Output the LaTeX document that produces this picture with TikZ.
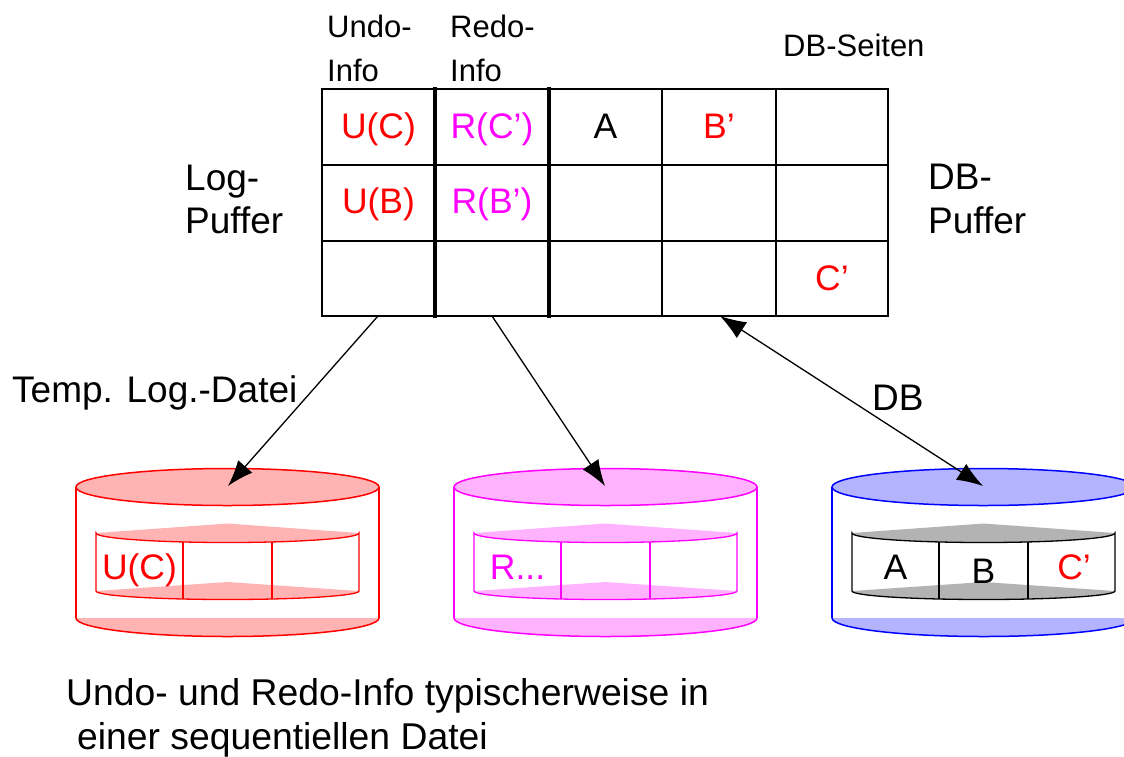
\documentclass[tikz,border=0pt]{standalone}
\usepackage{fontspec}
\setmainfont{Liberation Sans}
\usetikzlibrary{arrows.meta}
\definecolor{pred}{HTML}{FF0000}
\definecolor{pmag}{HTML}{FF00FF}
\definecolor{pblue}{HTML}{0000FF}
\definecolor{lred}{HTML}{FFB3B3}
\definecolor{lmag}{HTML}{FFB3FF}
\definecolor{lblue}{HTML}{B3B3FF}
\definecolor{lgrey}{HTML}{B3B3B3}
\tikzset{
  pics/dbcyl/.style n args={4}{code={
    \fill[#2] (-151.5,618) arc (180:0:151.5 and 18.5) -- cycle;
    \draw[#1, line width=1.5pt] (-151.5,618) arc (180:0:151.5 and 18.5);
    \draw[#1, line width=1.5pt] (-151.5,487) -- (-151.5,618) (151.5,487) -- (151.5,618);
    \filldraw[draw=#1, fill=#2, line width=1.5pt] (0,487) ellipse (151.5 and 18.5);
    \fill[#4] (-131.5,533) -- (0,523.5) -- (131.5,533) arc (0:180:131.5 and 9.5) -- cycle;
    \fill[#4] (-131.5,591) -- (0,582) -- (131.5,591) arc (0:180:131.5 and 8.5) -- cycle;
    \draw[#3, line width=1.3pt] (-131.5,533) arc (180:0:131.5 and 9.5) -- (131.5,591) arc (0:180:131.5 and 8.5) -- cycle;
    \draw[#3, line width=1.3pt] (-44.5,541.9) -- (-44.5,599) (44.5,541.9) -- (44.5,599);
  }}
}
\begin{document}
\begin{tikzpicture}[x=1pt,y=-1pt,
  lbl/.style={inner sep=0, anchor=base west, font=\fontsize{31}{37}\selectfont},
  big/.style={inner sep=0, anchor=base west, font=\fontsize{37}{44}\selectfont},
  bot/.style={inner sep=0, anchor=base west, font=\fontsize{37.3}{44}\selectfont},
  cell/.style={inner sep=0, anchor=base, font=\fontsize{35.5}{42}\selectfont},
  gridline/.style={line width=1.3pt},
  sepline/.style={line width=4.5pt},
  conn/.style={line width=1.3pt, -{Latex[length=26pt,width=19pt]}},
  conn2/.style={line width=1.3pt, {Latex[length=26pt,width=19pt]}-{Latex[length=26pt,width=19pt]}}
]
\useasboundingbox (0,0) rectangle (1124,756);

% cylinders
\pic (redcyl) at (227.5,0) {dbcyl={pred}{lred}{pred}{lred}};
\pic (magcyl) at (605.5,0) {dbcyl={pmag}{lmag}{pmag}{lmag}};
\begin{scope}
  \clip (0,0) rectangle (1124,756);
  \pic (blucyl) at (983.5,0) {dbcyl={pblue}{lblue}{black}{lgrey}};
\end{scope}

% cylinder contents
\node[cell, pred] (fuc) at (139.5,579) {U(C)};
\node[cell, pmag] (fr) at (517.5,579) {R...};
\node[cell] (fa) at (895.5,579) {A};
\node[cell] (fb) at (983.5,583) {B};
\node[cell, pred] (fc) at (1074,579) {C’};

% buffer grid
\draw[gridline] (322,89) rectangle (888,316);
\draw[gridline] (322,165) -- (888,165) (322,241) -- (888,241);
\draw[gridline] (662,89) -- (662,316) (776,89) -- (776,316);
\draw[sepline] (435,87) -- (435,318) (549,87) -- (549,318);

\node[cell, pred] (cuc) at (378.5,138) {U(C)};
\node[cell, pmag] (crc) at (492,138) {R(C’)};
\node[cell] (ca) at (605.5,138) {A};
\node[cell, pred] (cb) at (719,138) {B’};
\node[cell, pred] (cub) at (378.5,213) {U(B)};
\node[cell, pmag] (crb) at (492,213) {R(B’)};
\node[cell, pred] (ccc) at (832,290) {C’};

% labels
\node[lbl] (undo1) at (327,37) {Undo-};
\node[lbl] (undo2) at (327,81) {Info};
\node[lbl] (redo1) at (450,37) {Redo-};
\node[lbl] (redo2) at (450,81) {Info};
\node[lbl] (dbs) at (783,56) {DB-Seiten};
\node[big] (log1) at (185,190) {Log-};
\node[big] (log2) at (185,233) {Puffer};
\node[big] (dbp1) at (928,189) {DB-};
\node[big] (dbp2) at (928,233) {Puffer};
\node[big] (tmp) at (12,402) {Temp. Log.-Datei};
\node[big] (dbl) at (872,410) {DB};
\node[bot] (note1) at (66,705) {Undo- und Redo-Info typischerweise in};
\node[bot] (note2) at (77,749) {einer sequentiellen Datei};

% connectors
\coordinate (logout) at (378,316);
\coordinate (redoout) at (492,316);
\coordinate (dbio) at (720,316);
\coordinate (redin) at (228,486);
\coordinate (magin) at (605,486);
\coordinate (bluin) at (983,486);
\draw[conn] (logout) -- (redin);
\draw[conn] (redoout) -- (magin);
\draw[conn2] (dbio) -- (bluin);
\end{tikzpicture}
\end{document}
